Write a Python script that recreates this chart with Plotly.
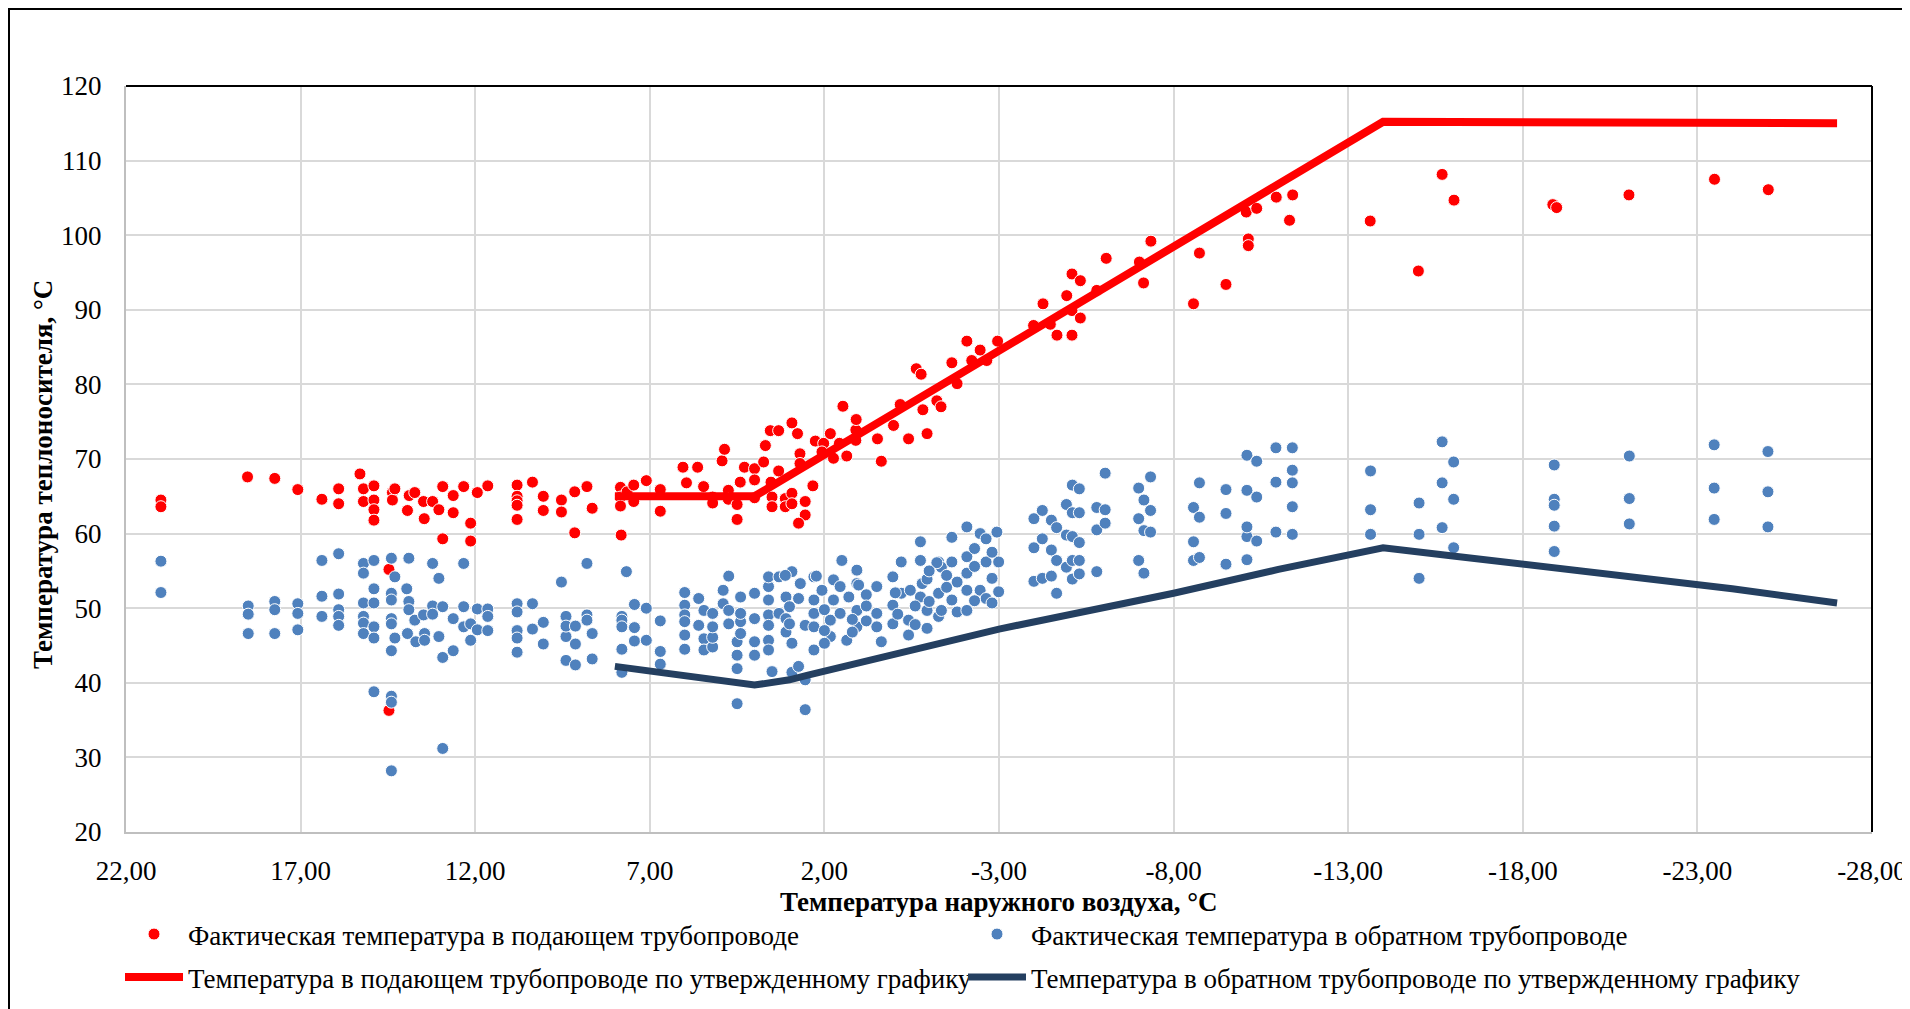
import plotly.graph_objects as go

# Фактическая температура в подающем трубопроводе (x - наружный воздух, y - теплоноситель)
supply_x = [
    21.0, 21.0, 18.52, 17.74, 17.08, 16.39, 15.91, 15.91, 15.30, 15.2, 15.2,
    14.9, 14.9, 14.9, 14.9, 14.47, 14.47, 14.37, 14.37, 14.3, 13.94, 13.89,
    13.73, 13.46, 13.48, 13.22, 13.04, 12.93, 12.93, 12.63, 12.63, 12.33,
    12.13, 12.13, 11.94, 11.64, 10.8, 10.8, 10.8, 10.8, 10.8, 10.36, 10.05,
    10.05, 9.53, 9.53, 9.15, 9.15, 8.80, 8.65,
    7.84, 7.84, 7.84, 7.82, 7.65, 7.46, 7.46, 7.1, 6.7, 6.7, 6.05, 5.95, 5.63,
    5.46, 5.2, 5.2, 4.93, 4.86, 4.75, 4.75, 4.5, 4.5, 4.41, 4.29, 4.0, 4.0,
    4.0, 3.74, 3.69, 3.53, 3.5, 3.5, 3.55, 3.31, 3.31, 3.12, 3.12, 2.93, 2.93,
    2.77, 2.7, 2.7, 2.55, 2.55, 2.74, 2.33, 2.26, 2.02, 1.83, 2.07, 1.74, 1.57,
    1.36, 1.1, 1.1, 0.48, 0.37, -0.41, -0.94,
    2.93, 1.47, 1.09, 0.02, -0.17, -0.63, -0.77, -0.82, -1.22, -1.34, -1.65,
    -1.8, -2.08, -2.22, -2.46, -2.65, -2.96, -3.99, -4.26, -4.47, -4.66, -5.09,
    -5.09, -5.09, -4.94, -5.33, -5.33, -5.8, -6.07, -7.02, -7.14, -7.35, -8.57,
    -8.74, -9.5, -10.14, -10.14, -10.08, -10.38, -10.94,
    -11.41, -11.32, -13.63, -15.01, -15.69, -16.03, -18.86, -18.97, -21.04,
    -23.49, -25.03,
]
supply_y = [
    64.5, 63.6, 67.6, 67.4, 65.9, 64.6, 66.0, 64.0, 68.0, 66.0, 64.3,
    66.4, 64.5, 63.2, 61.8, 55.2, 36.3, 65.5, 64.5, 66.0, 63.1, 65.1,
    65.5, 62.0, 64.3, 64.3, 63.2, 66.3, 59.3, 65.1, 62.8, 66.3,
    61.4, 59.0, 65.5, 66.4, 66.5, 65.0, 64.4, 63.8, 61.9, 66.9, 65.0,
    63.1, 64.5, 62.9, 65.6, 60.1, 66.3, 63.4,
    66.2, 64.9, 63.7, 59.8, 65.6, 66.5, 64.3, 67.1, 65.9, 63.0, 68.9, 66.8, 68.9,
    66.3, 64.9, 64.1, 69.75, 71.3, 65.8, 64.6, 63.9, 61.9, 66.9, 68.9, 68.7, 67.2,
    64.8, 69.6, 71.8, 66.9, 64.9, 63.6, 73.8, 73.8, 68.4, 64.7, 63.6, 65.4, 64.0,
    73.4, 70.7, 69.4, 64.3, 62.5, 61.4, 66.4, 72.4, 72.1, 73.4, 70.95, 70.1, 72.1,
    70.4, 73.9, 72.5, 72.7, 69.7, 72.7, 73.4,
    74.84, 77.07, 75.29, 74.5, 77.3, 82.1, 81.36, 76.6, 77.8, 77.0, 82.9,
    80.1, 85.8, 83.2, 84.6, 83.2, 85.8, 87.9, 90.8, 88.06, 86.6, 86.6,
    94.8, 89.9, 91.9, 93.9, 88.9, 92.6, 96.9, 96.4, 93.6, 99.2, 90.8,
    97.6, 93.4, 99.5, 98.6, 103.1, 103.6, 105.1,
    105.4, 102.0, 101.9, 95.2, 108.15, 104.7, 104.1, 103.7, 105.4,
    107.5, 106.1,
]

# Фактическая температура в обратном трубопроводе
return_x = [
    21.0, 21.0, 18.5, 18.5, 18.5, 17.74, 17.74, 17.74, 17.08, 17.08, 17.08,
    16.39, 16.39, 16.39, 15.91, 15.91, 15.91, 15.91, 15.91,
    15.2, 15.2, 15.2, 15.2, 15.2, 15.2, 14.9, 14.9, 14.9, 14.9, 14.9, 14.9,
    14.4, 14.4, 14.4, 14.4, 14.4, 14.4, 14.4, 14.4, 14.4, 14.3, 14.3,
    13.9, 13.9, 13.9, 13.96, 13.94, 13.73, 13.7, 13.45, 13.45, 13.48,
    13.22, 13.22, 13.22, 13.04, 13.04, 12.93, 12.93, 12.93, 12.63, 12.63,
    12.33, 12.33, 12.33, 12.13, 12.13, 11.94, 11.94, 11.64, 11.64, 11.64,
    10.8, 10.8, 10.8, 10.8, 10.8, 10.36, 10.36, 10.05, 10.05, 9.53,
    9.4, 9.4, 9.4, 9.4, 9.13, 9.13, 9.13, 8.8, 8.8, 8.8, 8.65, 8.65,
    7.67, 7.8, 7.8, 7.8, 7.8, 7.8, 7.44, 7.44, 7.44, 7.1, 7.1, 6.7, 6.7, 6.7,
    6.0, 6.0, 6.0, 6.0, 6.0, 6.0, 5.6, 5.6, 5.45, 5.45, 5.45, 5.2, 5.2, 5.2, 5.2,
    4.9, 4.9, 4.74, 4.74, 4.74, 4.5, 4.5, 4.5, 4.5, 4.4, 4.4, 4.4, 4.4,
    4.0, 4.0, 4.0, 4.0, 3.6, 3.6, 3.6, 3.6, 3.6, 3.6, 3.6, 3.5, 3.3, 3.3,
    3.1, 3.1, 3.1, 2.93, 2.93, 2.93, 2.74, 2.74, 2.69, 2.55, 2.55, 2.55,
    2.3, 2.3, 2.3, 2.3, 2.3, 2.07, 1.83, 1.83, 1.74, 1.74, 1.55, 1.55, 1.5,
    1.36, 1.3, 1.07, 1.07, 1.07, 1.07, 0.5, 0.5, 0.5, 0.37, 0.04, 0.04, 0.04,
    -0.2, -0.2, -0.41, -0.41, -0.46, -0.75, -0.75, -0.75, -0.8, -0.94, -0.94,
    -0.94, -1.27, -1.27, -1.27, -1.35, -1.35, -1.65, -1.65, -1.65, -1.8, -1.8,
    -2.08, -2.08, -2.08, -2.08, -2.08, -2.46, -2.46, -2.63, -2.63, -2.63,
    -2.94, -2.99, -2.99,
    3.12, 2.23, 1.02, -0.03, -1.22, 3.0, 3.0, 2.0, 2.0, 2.0, 1.2, 1.2, 0.8, 0.8,
    0.8, -0.1, -0.6, -0.6, -1.0, -1.0, -1.5, -1.5, -2.3, -2.3, -2.3, -2.8,
    -2.8, -2.8,
    -4.0, -4.0, -4.0, -4.24, -4.24, -4.24, -4.5, -4.5, -4.5, -4.65, -4.65,
    -4.65, -4.93, -4.93, -4.93, -5.1, -5.1, -5.1, -5.1, -5.1, -5.3, -5.3,
    -5.3, -5.3, -5.3, -5.8, -5.8, -5.8, -6.04, -6.04, -6.04, -7.0, -7.0, -7.0,
    -7.15, -7.15, -7.15, -7.34, -7.34, -7.34, -8.57, -8.57, -8.57, -8.74,
    -8.74, -8.74, -9.5, -9.5, -9.5, -10.1, -10.1, -10.1, -10.1, -10.1,
    -10.38, -10.38, -10.38, -10.93, -10.93, -10.93, -11.4, -11.4, -11.4,
    -11.4, -11.4, -13.64, -13.64, -13.64, -15.03, -15.03, -15.03, -15.69,
    -15.69, -15.69, -16.02, -16.02, -16.02, -18.9, -18.9, -18.9, -18.9, -18.9,
    -21.05, -21.05, -21.05, -23.48, -23.48, -23.48, -25.02, -25.02, -25.02,
]
return_y = [
    56.3, 52.1, 50.3, 49.2, 46.6, 50.9, 49.8, 46.6, 50.6, 49.3, 47.1,
    56.4, 51.6, 48.9, 57.3, 51.9, 49.8, 48.9, 47.7,
    56.0, 54.7, 50.7, 48.9, 48.0, 46.6, 56.4, 52.6, 50.7, 47.5, 46.0, 38.8,
    56.7, 52.0, 51.1, 48.6, 47.9, 44.3, 38.2, 37.4, 28.2, 54.2, 46.0,
    56.7, 50.9, 49.8, 52.6, 46.6, 48.4, 45.5, 46.6, 45.7, 49.1,
    56.0, 50.3, 49.2, 54.0, 46.2, 50.2, 43.4, 31.2, 44.3, 48.6,
    56.0, 50.2, 47.5, 47.9, 45.7, 49.9, 47.1, 49.9, 48.9, 47.0,
    50.6, 49.5, 47.0, 46.0, 44.1, 50.6, 47.2, 48.1, 45.2, 53.5,
    48.9, 46.2, 43.0, 47.6, 47.6, 45.2, 42.4, 56.0, 49.1, 48.4, 46.6, 43.2,
    54.9, 48.9, 48.4, 47.5, 44.5, 41.4, 50.5, 47.4, 45.6, 50.0, 45.7, 48.3, 44.2, 42.5,
    52.1, 50.4, 49.1, 48.2, 46.4, 44.5, 51.3, 47.7, 49.7, 45.9, 44.4, 44.8, 46.1, 49.3, 47.5,
    52.4, 50.6, 54.3, 49.7, 47.9, 45.5, 43.7, 41.9, 37.2, 48.2, 51.5, 49.3, 46.6,
    52.0, 48.6, 45.5, 43.7, 49.1, 52.9, 54.2, 51.1, 47.7, 45.7, 44.4, 41.5, 49.3, 54.2,
    48.6, 51.5, 46.8, 54.9, 45.3, 41.4, 51.3, 42.2, 53.3, 47.7, 40.4, 36.4,
    49.3, 44.4, 54.2, 51.1, 47.5, 52.4, 48.4, 46.2, 53.8, 51.1, 52.9, 49.3, 56.4,
    45.7, 51.5, 47.5, 55.1, 53.3, 49.7, 52.9, 49.3, 47.5, 45.5, 54.2, 50.4, 47.9,
    56.2, 52.0, 48.4, 46.4, 52.4, 58.9, 56.4, 51.5, 53.3, 53.9, 49.7,
    47.3, 56.2, 52.0, 48.9, 55.5, 49.7, 59.5, 56.2, 51.1, 53.5, 49.5,
    60.9, 56.9, 54.7, 52.4, 49.7, 60.0, 52.4, 59.3, 56.2, 51.3,
    60.2, 56.2, 52.2,
    54.4, 54.3, 53.1, 52.06, 56.1, 50.2, 47.9, 49.8, 47.0, 45.3, 48.5, 46.8, 51.8, 50.3,
    48.3, 49.2, 50.3, 47.8, 55.0, 50.9, 52.8, 54.4, 58.0, 55.6, 51.0, 57.5,
    54.0, 50.7,
    62.0, 58.1, 53.6, 63.1, 59.3, 54.0, 61.8, 57.8, 54.3, 60.8, 56.4,
    52.0, 63.9, 59.8, 55.5, 66.5, 62.8, 59.6, 56.4, 53.9, 66.0, 62.8,
    58.8, 56.4, 54.6, 63.5, 60.5, 54.9, 68.1, 63.2, 61.4, 66.1, 62.0, 56.4,
    64.5, 60.4, 54.7, 67.6, 63.1, 60.2, 63.5, 58.9, 56.4, 66.8,
    62.2, 56.8, 65.9, 62.7, 55.9, 70.5, 65.8, 59.6, 60.9, 56.5,
    69.7, 64.9, 59.0, 71.5, 66.9, 60.2, 71.5, 68.5, 66.8,
    63.6, 59.9, 68.4, 63.2, 59.9, 64.1, 59.9, 54.0, 72.3,
    66.8, 60.8, 69.6, 64.6, 58.1, 69.2, 64.6, 63.8, 61.0, 57.6,
    70.4, 64.7, 61.3, 71.9, 66.1, 61.9, 71.0, 65.6, 60.9,
]

# Температурный график (утвержденный)
sched_supply_x = [8, 4, -14, -27]
sched_supply_y = [65.0, 65.0, 115.2, 115.0]
sched_return_x = [8, 4, 3, 2.5, -3, -6, -8, -11, -14, -16, -20, -24, -27]
sched_return_y = [42.2, 39.7, 40.4, 41.0, 47.2, 50.0, 52.0, 55.2, 58.1, 57.0, 54.8, 52.6, 50.7]

x_ticks = [22, 17, 12, 7, 2, -3, -8, -13, -18, -23, -28]
y_ticks = [20, 30, 40, 50, 60, 70, 80, 90, 100, 110, 120]

FONT = "Liberation Serif, Times New Roman, serif"
FS = 27
W, H = 1910, 1009
OFF = 8  # page offset of the figure (body margin)
ML, MR, MT, MB = 118, 46, 78, 185
PW, PH = W - ML - MR, H - MT - MB


def px_x(p):
    # page pixel -> paper x
    return (p - OFF - ML) / PW


def px_y(p):
    # page pixel -> paper y
    return (H - MB - (p - OFF)) / PH


fig = go.Figure()
fig.add_trace(go.Scatter(
    x=supply_x, y=supply_y, mode="markers",
    name="Фактическая температура в подающем трубопроводе",
    marker=dict(color="#FF0000", size=12, line=dict(color="white", width=1)),
    legend="legend",
))
fig.add_trace(go.Scatter(
    x=return_x, y=return_y, mode="markers",
    name="Фактическая температура в обратном трубопроводе",
    marker=dict(color="#4F81BD", size=12, line=dict(color="white", width=1)),
    legend="legend",
))
fig.add_trace(go.Scatter(
    x=sched_supply_x, y=sched_supply_y, mode="lines",
    name="Температура в подающем трубопроводе по утвержденному графику",
    line=dict(color="#FF0000", width=8),
    legend="legend2",
))
fig.add_trace(go.Scatter(
    x=sched_return_x, y=sched_return_y, mode="lines",
    name="Температура в обратном трубопроводе по утвержденному графику",
    line=dict(color="#243F60", width=7),
    legend="legend2",
))

legend_common = dict(
    orientation="h", xanchor="left", yanchor="middle",
    itemwidth=58, entrywidth=770, entrywidthmode="pixels",
    font=dict(family=FONT, size=FS, color="black"),
    bgcolor="rgba(0,0,0,0)", borderwidth=0,
)

fig.update_layout(
    width=W, height=H,
    margin=dict(l=ML, r=MR, t=MT, b=MB, autoexpand=False),
    paper_bgcolor="white", plot_bgcolor="white",
    font=dict(family=FONT, size=FS, color="black"),
    showlegend=True,
    legend=dict(x=px_x(120), y=px_y(934.5), **legend_common),
    legend2=dict(x=px_x(120), y=px_y(977.5), **legend_common),
    xaxis=dict(
        range=[22, -28], tickvals=x_ticks,
        ticktext=[f"{v:.2f}".replace(".", ",") for v in x_ticks],
        showgrid=True, gridcolor="#D9D9D9", gridwidth=1.5,
        showline=True, linecolor="#BFBFBF", linewidth=2,
        zeroline=False, ticks="", ticklabelstandoff=14, automargin=False,
        tickfont=dict(family=FONT, size=FS, color="black"),
    ),
    yaxis=dict(
        range=[20, 120], tickvals=y_ticks,
        showgrid=True, gridcolor="#D9D9D9", gridwidth=1.5,
        showline=True, linecolor="#BFBFBF", linewidth=2,
        zeroline=False, ticks="", ticklabelstandoff=17, automargin=False,
        tickfont=dict(family=FONT, size=FS, color="black"),
    ),
    annotations=[
        dict(text="<b>Температура наружного воздуха, °С</b>", xref="paper", yref="paper",
             x=0.5, y=px_y(902), showarrow=False, xanchor="center", yanchor="middle",
             font=dict(family=FONT, size=FS, color="black")),
        dict(text="<b>Температура теплоносителя, °С</b>", xref="paper", yref="paper",
             x=px_x(43), y=px_y(475), showarrow=False, textangle=-90,
             xanchor="center", yanchor="middle",
             font=dict(family=FONT, size=FS, color="black")),
    ],
    shapes=[
        # верхняя и правая границы области построения
        dict(type="line", xref="paper", yref="paper", x0=0, x1=1, y0=1, y1=1,
             line=dict(color="black", width=2)),
        dict(type="line", xref="paper", yref="paper", x0=1, x1=1, y0=0, y1=1,
             line=dict(color="black", width=2)),
        # рамка диаграммы
        dict(type="rect", xref="paper", yref="paper",
             x0=px_x(9), x1=px_x(1903), y0=px_y(1030), y1=px_y(9),
             line=dict(color="black", width=2), fillcolor="rgba(0,0,0,0)"),
    ],
)

fig.write_html("out.html")
